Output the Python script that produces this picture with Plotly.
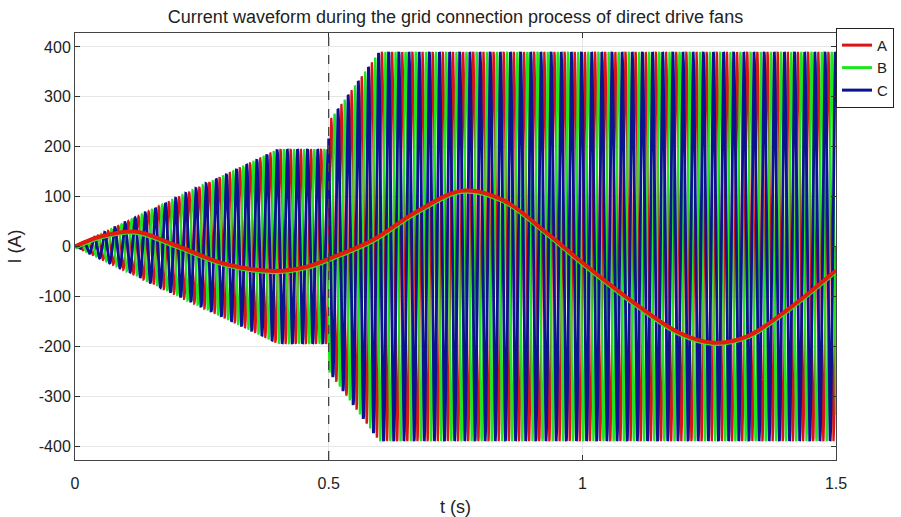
import numpy as np
import plotly.graph_objects as go

# Three-phase stator current of a direct-drive fan during grid connection
grid_freq_hz = 50.0
env_t = [0.0, 0.4, 0.5, 0.5, 0.6, 1.5]          # envelope breakpoints (s)
env_amp = [0.0, 195.0, 195.0, 250.0, 390.0, 390.0]  # peak current at breakpoints (A)
phase_names = ["A", "B", "C"]
phase_shift_deg = [0.0, -120.0, 120.0]
phase_colors = ["#d81414", "#1ee61e", "#0a148f"]
phase_widths = [2.2, 2.2, 2.8]

# Low-frequency component traced through the waveform
slow_t = [0.0, 0.05, 0.118, 0.197, 0.296, 0.394, 0.459, 0.512, 0.587, 0.674,
          0.765, 0.844, 0.930, 0.995, 1.094, 1.193, 1.258, 1.325, 1.404, 1.5]
slow_i = [0, 20, 30, 3, -35, -49, -40, -20, 13, 70,
          112, 93, 27, -28, -107, -174, -193, -180, -127, -48]

x_ticks = [0, 0.5, 1, 1.5]
x_tick_text = ["0", "0.5", "1", "1.5"]
y_ticks = list(range(-400, 401, 100))
y_tick_text = [str(v) for v in y_ticks]
switch_time = 0.5

t = np.linspace(0.0, 1.5, 9001)
amp = np.interp(t, env_t, env_amp)

fig = go.Figure()
for name, shift, color, width in zip(phase_names, phase_shift_deg, phase_colors, phase_widths):
    current = amp * np.sin(2 * np.pi * grid_freq_hz * t + np.deg2rad(shift))
    fig.add_trace(go.Scatter(
        x=t, y=current, mode="lines", name=name, legendgroup=name, showlegend=False,
        line=dict(color=color, width=width),
    ))

slow_arr = np.array(slow_i, dtype=float)
fig.add_trace(go.Scatter(
    x=slow_t, y=slow_arr - 2.0, mode="lines", showlegend=False,
    line=dict(color="#2ee62e", width=4.4, shape="spline", smoothing=1.0),
))
fig.add_trace(go.Scatter(
    x=slow_t, y=slow_arr, mode="lines", showlegend=False,
    line=dict(color="#e41a0c", width=4.0, shape="spline", smoothing=1.0),
))

# Legend entries with heavier strokes
for name, color in zip(phase_names, phase_colors):
    fig.add_trace(go.Scatter(
        x=[None], y=[None], mode="lines", name=name, legendgroup=name,
        line=dict(color=color, width=3),
    ))

fig.add_shape(type="line", xref="x", yref="paper", x0=switch_time, x1=switch_time,
              y0=0, y1=1, line=dict(color="#444444", width=1.3, dash="dash"))

font_family = "Liberation Sans, Arial, sans-serif"
fig.update_layout(
    width=901, height=517,
    margin=dict(l=75, r=65, t=33, b=57, autoexpand=False),
    paper_bgcolor="white", plot_bgcolor="white",
    font=dict(family=font_family, size=16, color="#222222"),
    title=dict(text="Current waveform during the grid connection process of direct drive fans",
               x=0.5, xref="paper", xanchor="center", y=0.967, yanchor="middle",
               font=dict(size=18, color="#222222")),
    showlegend=True,
    legend=dict(x=1.0, xanchor="left", y=1.012, yanchor="top",
                bgcolor="white", bordercolor="#222222", borderwidth=1,
                font=dict(size=15), tracegroupgap=0, itemwidth=30),
    xaxis=dict(range=[0, 1.5], tickvals=x_ticks, ticktext=x_tick_text,
               ticks="inside", ticklen=5, tickcolor="#333333",
               showline=True, linecolor="#444444", linewidth=1, mirror="ticks",
               showgrid=True, gridcolor="#e6e6e6", zeroline=False,
               ticklabelstandoff=9,
               title=dict(text="t (s)", font=dict(size=18), standoff=10)),
    yaxis=dict(range=[-428, 428], tickvals=y_ticks, ticktext=y_tick_text,
               ticks="inside", ticklen=5, tickcolor="#333333",
               showline=True, linecolor="#444444", linewidth=1, mirror="ticks",
               showgrid=True, gridcolor="#e6e6e6", zeroline=False,
               title=dict(text="I (A)", font=dict(size=18), standoff=12)),
)

fig.write_html("out.html")
